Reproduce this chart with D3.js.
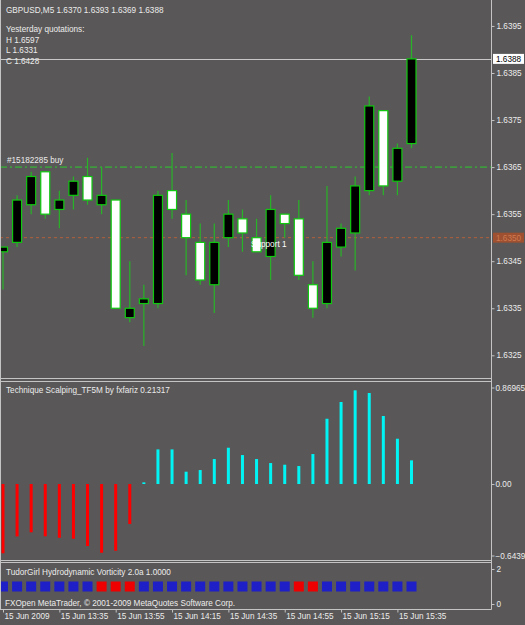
<!DOCTYPE html>
<html>
<head>
<meta charset="utf-8">
<script src="https://cdn.jsdelivr.net/npm/d3@7"></script>
<style>
	body { margin: 0; background: #595757; }
	svg { display: block; }
	text { font-family: "Liberation Sans", Arial, sans-serif; font-size: 8.2px; fill: #ececec; }
</style>
</head>
<body>
<div id="chart"></div>
<script>

// M5 bars, 15 Jun 2009
const times = ["13:15", "13:20", "13:25", "13:30", "13:35", "13:40", "13:45", "13:50", "13:55", "14:00",
	"14:05", "14:10", "14:15", "14:20", "14:25", "14:30", "14:35", "14:40", "14:45", "14:50",
	"14:55", "15:00", "15:05", "15:10", "15:15", "15:20", "15:25", "15:30", "15:35", "15:40"];

const opens = [1.6347, 1.6349, 1.6357, 1.6364, 1.6356, 1.6359, 1.6363, 1.6357, 1.6358, 1.6333,
	1.6336, 1.6336, 1.6360, 1.6355, 1.6349, 1.6340, 1.6350, 1.6354, 1.6350, 1.6346,
	1.6355, 1.6354, 1.6340, 1.6336, 1.6348, 1.6351, 1.6360, 1.6377, 1.6362, 1.6370];
const highs = [1.6348, 1.6359, 1.6364, 1.6364, 1.6360, 1.6363, 1.6367, 1.6365, 1.6358, 1.6345,
	1.6340, 1.6360, 1.6368, 1.6358, 1.6353, 1.6353, 1.6358, 1.6356, 1.6354, 1.6359,
	1.6355, 1.6358, 1.6345, 1.6361, 1.6353, 1.6363, 1.6380, 1.6377, 1.6370, 1.6393];
const lows = [1.6339, 1.6348, 1.6355, 1.6354, 1.6352, 1.6356, 1.6357, 1.6355, 1.6335, 1.6332,
	1.6327, 1.6335, 1.6354, 1.6342, 1.6340, 1.6334, 1.6348, 1.6347, 1.6347, 1.6341,
	1.6350, 1.6341, 1.6333, 1.6335, 1.6346, 1.6343, 1.6359, 1.6359, 1.6359, 1.6369];
const closes = [1.6348, 1.6358, 1.6363, 1.6355, 1.6358, 1.6362, 1.6358, 1.6359, 1.6335, 1.6335,
	1.6337, 1.6359, 1.6356, 1.6350, 1.6341, 1.6349, 1.6355, 1.6351, 1.6347, 1.6356,
	1.6353, 1.6342, 1.6335, 1.6349, 1.6352, 1.6361, 1.6378, 1.6361, 1.6369, 1.6388];

// Price axis
const priceTicks = [1.6395, 1.6385, 1.6375, 1.6365, 1.6355, 1.6345, 1.6335, 1.6325];
const bidPrice = 1.6388;
const supportPrice = 1.6350;
const orderPrice = 1.6365;

// Technique Scalping_TF5M histogram
const scalpValues = [-0.624, -0.472, -0.435, -0.471, -0.484, -0.493, -0.559, -0.619, -0.601, -0.360,
	0.015, 0.312, 0.312, 0.111, 0.126, 0.225, 0.327, 0.261, 0.225, 0.189,
	0.174, 0.162, 0.270, 0.588, 0.739, 0.844, 0.820, 0.613, 0.408, 0.2132];
const scalpTicks = [0.86965, 0, -0.64399];

// TudorGirl Hydrodynamic Vorticity: 1 = blue, -1 = red
const vorticityDir = [1, 1, 1, 1, 1, 1, 1, -1, -1, -1,
	1, 1, 1, 1, 1, 1, 1, 1, 1, 1,
	1, -1, -1, 1, 1, 1, 1, 1, 1, 1];
const vorticityTicks = [2, 0];

// Time axis labels (every 4th bar)
const timeTicks = ["13:15", "13:35", "13:55", "14:15", "14:35", "14:55", "15:15", "15:35"];
const timeTickLabels = ["15 Jun 2009", "15 Jun 13:35", "15 Jun 13:55", "15 Jun 14:15", "15 Jun 14:35", "15 Jun 14:55", "15 Jun 15:15", "15 Jun 15:35"];


class TerminalChartVis {

	constructor(_parentElement) {
		this.parentElement = _parentElement;
		this.initVis();
	}

	initVis() {
		let vis = this;

		vis.width = 525;
		vis.height = 625;
		vis.axisX = 491.5;

		vis.svg = d3.select("#" + vis.parentElement).append("svg")
			.attr("width", vis.width)
			.attr("height", vis.height);

		// clip paths for the three panes
		const defs = vis.svg.append("defs");
		const panes = [["clipMain", 2, 378], ["clipScalp", 382, 560], ["clipVort", 563, 609]];
		panes.forEach(p => {
			defs.append("clipPath").attr("id", p[0])
				.append("rect").attr("x", 1).attr("y", p[1]).attr("width", vis.axisX - 1).attr("height", p[2] - p[1]);
		});

		// scales
		vis.x = d3.scalePoint().domain(times).range([3, 411.5]);
		vis.yPrice = d3.scaleLinear().domain([1.6325, 1.6385]).range([355.3, 73]);
		vis.yScalp = d3.scaleLinear().domain([-0.64399, 0.86965]).range([555.5, 387.5]);
		vis.yVort = d3.scaleLinear().domain([0, 2]).range([604, 569]);

		vis.drawFrame();
		vis.drawMain();
		vis.drawScalp();
		vis.drawVorticity();
		vis.drawAxes();
	}

	drawFrame() {
		let vis = this;
		const frame = vis.svg.append("g").attr("stroke", "#c4c4c4").attr("stroke-width", 1);

		frame.append("line").attr("x1", 0.5).attr("x2", 0.5).attr("y1", 0).attr("y2", 609.5);
		frame.append("line").attr("x1", vis.axisX).attr("x2", vis.axisX).attr("y1", 0).attr("y2", 609.5);
		[378.5, 381.5, 560.5, 562.5, 609.5].forEach(y => {
			frame.append("line").attr("x1", 0).attr("x2", vis.axisX).attr("y1", y).attr("y2", y);
		});
	}

	drawMain() {
		let vis = this;
		const g = vis.svg.append("g").attr("clip-path", "url(#clipMain)");

		// horizontal lines
		g.append("line")
			.attr("x1", 0).attr("x2", vis.axisX)
			.attr("y1", Math.round(vis.yPrice(bidPrice)) + 0.5).attr("y2", Math.round(vis.yPrice(bidPrice)) + 0.5)
			.attr("stroke", "#c8c8c8");
		g.append("line")
			.attr("x1", 0).attr("x2", vis.axisX)
			.attr("y1", vis.yPrice(supportPrice)).attr("y2", vis.yPrice(supportPrice))
			.attr("stroke", "#b3603a").attr("stroke-dasharray", "3,3");
		g.append("line")
			.attr("x1", 0).attr("x2", vis.axisX)
			.attr("y1", vis.yPrice(orderPrice)).attr("y2", vis.yPrice(orderPrice))
			.attr("stroke", "#3f9a3f").attr("stroke-width", 1.6).attr("stroke-dasharray", "7,3,2,3");

		g.append("text").attr("x", 7).attr("y", vis.yPrice(orderPrice) - 4.5).text("#15182285 buy");

		// candles
		const bars = times.map((t, i) => ({ t: t, o: opens[i], h: highs[i], l: lows[i], c: closes[i] }));

		g.selectAll(".wick").data(bars).join("line")
			.attr("class", "wick")
			.attr("x1", d => vis.x(d.t)).attr("x2", d => vis.x(d.t))
			.attr("y1", d => vis.yPrice(d.h)).attr("y2", d => vis.yPrice(d.l))
			.attr("stroke", "#28b428").attr("stroke-width", 1.2);

		g.selectAll(".body").data(bars).join("rect")
			.attr("class", "body")
			.attr("x", d => vis.x(d.t) - 4.5)
			.attr("width", 9)
			.attr("y", d => vis.yPrice(Math.max(d.o, d.c)))
			.attr("height", d => Math.max(2, Math.abs(vis.yPrice(d.o) - vis.yPrice(d.c))))
			.attr("fill", d => d.c >= d.o ? "#000" : "#fff")
			.attr("stroke", "#10c810").attr("stroke-width", 1.2);

		// support label drawn over the candles (white on white hides the "S")
		g.append("text").attr("x", 251).attr("y", 246.5).style("fill", "#ffffff").text("Support 1");

		// header texts
		g.append("text").attr("x", 6).attr("y", 12.5).text("GBPUSD,M5  1.6370 1.6393 1.6369 1.6388");
		const info = ["Yesterday quotations:", "H 1.6597", "L 1.6331", "C 1.6428"];
		g.selectAll(".info").data(info).join("text")
			.attr("class", "info")
			.attr("x", 6)
			.attr("y", (d, i) => 32 + i * 10.5)
			.text(d => d);
	}

	drawScalp() {
		let vis = this;
		const g = vis.svg.append("g").attr("clip-path", "url(#clipScalp)");

		g.selectAll(".hist").data(scalpValues).join("rect")
			.attr("class", "hist")
			.attr("x", (d, i) => vis.x(times[i]) - 1.5)
			.attr("width", 3)
			.attr("y", d => vis.yScalp(Math.max(0, d)))
			.attr("height", d => Math.max(1.5, Math.abs(vis.yScalp(d) - vis.yScalp(0))))
			.attr("fill", d => d < 0 ? "#ff0000" : "#00f4f4");

		g.append("text").attr("x", 6).attr("y", 393).text("Technique Scalping_TF5M by fxfariz 0.21317");
	}

	drawVorticity() {
		let vis = this;
		const g = vis.svg.append("g").attr("clip-path", "url(#clipVort)");

		g.selectAll(".vort").data(vorticityDir).join("rect")
			.attr("class", "vort")
			.attr("x", (d, i) => vis.x(times[i]) - 5)
			.attr("width", 10)
			.attr("y", vis.yVort(1) - 5)
			.attr("height", 10)
			.attr("fill", d => d > 0 ? "#1f1fc8" : "#ee0000");

		g.append("text").attr("x", 6).attr("y", 575).text("TudorGirl Hydrodynamic Vorticity 2.0a 1.0000");
		g.append("text").attr("x", 5).attr("y", 606).text("FXOpen MetaTrader, © 2001-2009 MetaQuotes Software Corp.");
	}

	drawAxes() {
		let vis = this;

		const styleAxis = sel => {
			sel.select(".domain").remove();
			sel.selectAll(".tick line").attr("stroke", "#c4c4c4");
			sel.selectAll(".tick text").attr("fill", "#ececec").style("font-size", "8.2px");
		};

		// price axis
		vis.svg.append("g")
			.attr("transform", "translate(" + vis.axisX + ",0)")
			.call(d3.axisRight(vis.yPrice).tickValues(priceTicks).tickFormat(d3.format(".4f")).tickSize(3).tickPadding(2))
			.call(styleAxis);

		// price labels in boxes
		const boxes = [[bidPrice, "#ffffff", "#000000"], [supportPrice, "#9e5030", "#cf7a52"]];
		boxes.forEach(b => {
			const y = vis.yPrice(b[0]);
			vis.svg.append("rect").attr("x", 493).attr("y", y - 5).attr("width", 31).attr("height", 10).attr("fill", b[1]);
			vis.svg.append("text").attr("x", 496).attr("y", y + 3).style("fill", b[2]).text(b[0].toFixed(4));
		});

		// scalp axis
		vis.svg.append("g")
			.attr("transform", "translate(" + vis.axisX + ",0)")
			.call(d3.axisRight(vis.yScalp).tickValues(scalpTicks).tickFormat(d => d === 0 ? "0.00" : d3.format(".5f")(d)).tickSize(3).tickPadding(1))
			.call(styleAxis);

		// vorticity axis
		vis.svg.append("g")
			.attr("transform", "translate(" + vis.axisX + ",0)")
			.call(d3.axisRight(vis.yVort).tickValues(vorticityTicks).tickFormat(d3.format("d")).tickSize(3).tickPadding(2))
			.call(styleAxis);

		// time axis
		const timeAxis = vis.svg.append("g")
			.attr("transform", "translate(0,609.5)")
			.call(d3.axisBottom(vis.x).tickValues(timeTicks).tickFormat((d, i) => timeTickLabels[i]).tickSize(3).tickPadding(1))
			.call(styleAxis);
		timeAxis.selectAll(".tick text").attr("text-anchor", "start").attr("dx", 1);
	}
}

new TerminalChartVis("chart");

</script>
</body>
</html>
